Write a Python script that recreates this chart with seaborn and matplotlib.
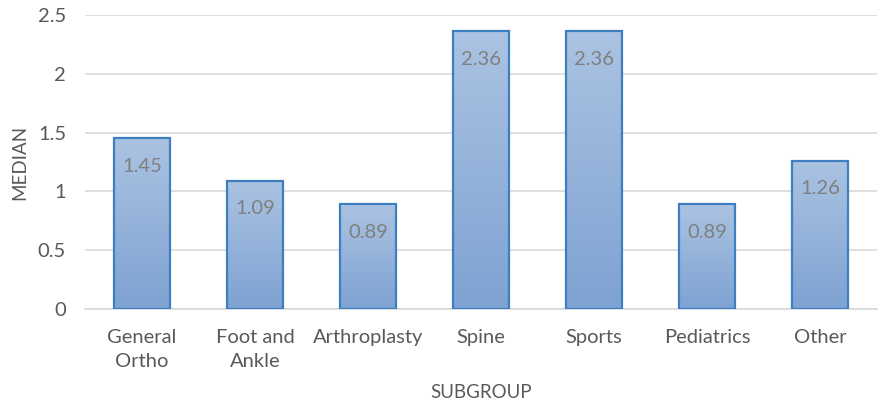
import matplotlib
matplotlib.use('Agg')
import matplotlib.pyplot as plt
import seaborn as sns
import numpy as np
import pandas as pd
from matplotlib.colors import LinearSegmentedColormap

subgroups = ['General\nOrtho', 'Foot and\nAnkle', 'Arthroplasty', 'Spine',
             'Sports', 'Pediatrics', 'Other']
medians = [1.45, 1.09, 0.89, 2.36, 2.36, 0.89, 1.26]

sns.set_theme(style='white')
plt.rcParams['font.family'] = ['Lato', 'DejaVu Sans']

TXT = '#595959'
df = pd.DataFrame({'SUBGROUP': subgroups, 'MEDIAN': medians})

fig = plt.figure(figsize=(8.81, 4.04), dpi=100)
ax = fig.add_axes([0.097, 0.235, 0.898, 0.728])

sns.barplot(data=df, x='SUBGROUP', y='MEDIAN', ax=ax, width=0.5,
            color='#9bb7dc', edgecolor='#3d7fc0', linewidth=1.6, zorder=3)

ax.set_ylim(0, 2.5)
ax.set_xlim(-0.5, len(subgroups) - 0.5)
ax.set_yticks([0, 0.5, 1, 1.5, 2, 2.5])
ax.set_yticklabels(['0', '0.5', '1', '1.5', '2', '2.5'])
ax.yaxis.grid(True, color='#d9d9d9', linewidth=1.2, zorder=0)
ax.set_axisbelow(True)
for s in ['top', 'right', 'left']:
    ax.spines[s].set_visible(False)
ax.spines['bottom'].set_color('#d9d9d9')
ax.spines['bottom'].set_linewidth(1.2)
ax.tick_params(axis='both', length=0, labelsize=14.5, colors=TXT)
ax.tick_params(axis='y', pad=14)
ax.tick_params(axis='x', pad=14)
for t in ax.get_xticklabels():
    t.set_linespacing(1.55)
ax.set_xlabel('SUBGROUP', fontsize=13.5, color=TXT, labelpad=10)
ax.set_ylabel('MEDIAN', fontsize=13.5, color=TXT, labelpad=7)

# gradient fill like Excel
cmap = LinearSegmentedColormap.from_list('g', ['#7ea2d2', '#abc3e2'])
grad = np.linspace(0, 1, 256).reshape(-1, 1)
for bar in ax.patches:
    x0, w, h = bar.get_x(), bar.get_width(), bar.get_height()
    im = ax.imshow(grad, cmap=cmap, aspect='auto', origin='lower',
                   extent=[x0, x0 + w, 0, h], zorder=3.5)
    im.set_clip_path(bar)
    bar.set_facecolor('none')
    bar.set_zorder(4)

for i, v in enumerate(medians):
    ax.annotate(f'{v:.2f}', (i, v), xytext=(0, -20), textcoords='offset points',
                ha='center', va='center', fontsize=14.5, color='#7f7f7f', zorder=5)

fig.savefig('out.png', dpi=100)
